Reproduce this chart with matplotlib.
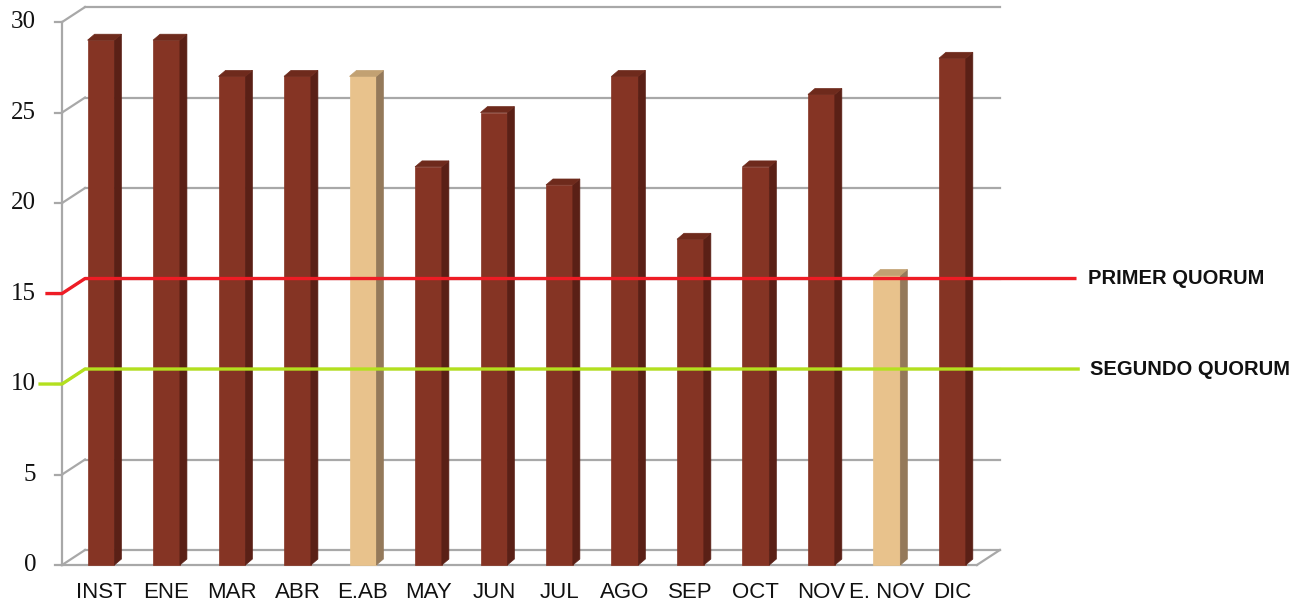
import matplotlib.pyplot as plt
from matplotlib.patches import Polygon

categories = ['INST', 'ENE', 'MAR', 'ABR', 'E.AB', 'MAY', 'JUN', 'JUL', 'AGO',
              'SEP', 'OCT', 'NOV', 'E. NOV', 'DIC']
asistencia = [29, 29, 27, 27, 27, 22, 25, 21, 27, 18, 22, 26, 16, 28]
extraordinaria = [False, False, False, False, True, False, False, False, False,
                  False, False, False, True, False]
yticks = [0, 5, 10, 15, 20, 25, 30]
primer_quorum = 15
segundo_quorum = 10

# colores
front_c = {False: '#853424', True: '#e8c28c'}
side_c = {False: '#5a2016', True: '#94795a'}
top_c = {False: '#6e2a1c', True: '#c2a172'}
grid_c = '#a8a8a8'

fig = plt.figure(figsize=(13.08, 6.07), dpi=100)
ax = fig.add_axes([0, 0, 1, 1])
ax.set_xlim(-1.542, 18.43)
ax.set_ylim(-2.32, 31.22)
ax.axis('off')

# geometria de la pared (profundidad)
xl = -0.595
DX, DY = 0.351, 0.83
xr = 13.725

# pared del fondo y lineas de cuadricula
for t in yticks:
    ax.plot([xl + DX, xr], [t + DY, t + DY], color=grid_c, lw=1.6, zorder=1)
    ax.plot([xl, xl + DX], [t, t + DY], color=grid_c, lw=1.6, zorder=1)
    ax.plot([xl - 0.11, xl], [t, t], color=grid_c, lw=1.6, zorder=1)
    ax.text(-0.99, t, str(t), ha='right', va='center', fontsize=18,
            family='Liberation Serif', color='#111111')
ax.plot([xl, xl], [0, yticks[-1]], color=grid_c, lw=1.6, zorder=1)
ax.plot([xl, xr - DX], [0, 0], color=grid_c, lw=1.6, zorder=1)
ax.plot([xr - DX, xr], [0, DY], color=grid_c, lw=1.6, zorder=1)

# barras 3D
w = 0.41
sdx, sdy = 0.107, 0.33
xs = list(range(len(categories)))
fc = [front_c[e] for e in extraordinaria]
ax.bar(xs, asistencia, width=w, color=fc, edgecolor=fc, lw=0.5, zorder=3)
for x, v, e in zip(xs, asistencia, extraordinaria):
    r = x + w / 2
    ax.add_patch(Polygon([(r, 0), (r + sdx, sdy), (r + sdx, v + sdy), (r, v)],
                         closed=True, fc=side_c[e], ec=side_c[e], lw=0.5,
                         zorder=3))
    ax.add_patch(Polygon([(x - w / 2, v), (r, v), (r + sdx, v + sdy),
                          (x - w / 2 + sdx, v + sdy)],
                         closed=True, fc=top_c[e], ec=top_c[e], lw=0.5,
                         zorder=3))
    ax.text(x, -1.5, categories[x], ha='center', va='center',
            fontsize=16, family='Liberation Sans', color='#111111')

# lineas de quorum
ax.plot([-0.824, xl, xl + DX, 14.87],
        [primer_quorum, primer_quorum, primer_quorum + DY, primer_quorum + DY],
        color='#ee1c25', lw=2.4, zorder=5)
ax.plot([-0.93, xl, xl + DX, 14.92],
        [segundo_quorum, segundo_quorum, segundo_quorum + DY, segundo_quorum + DY],
        color='#b3e01e', lw=2.4, zorder=5)
ax.text(15.07, primer_quorum + DY, 'PRIMER QUORUM', ha='left', va='center',
        fontsize=14.5, fontweight='bold', family='Liberation Sans', color='#111111')
ax.text(15.1, segundo_quorum + DY, 'SEGUNDO QUORUM', ha='left', va='center',
        fontsize=14.5, fontweight='bold', family='Liberation Sans', color='#111111')

fig.savefig('out.png', dpi=100)
plt.close()
